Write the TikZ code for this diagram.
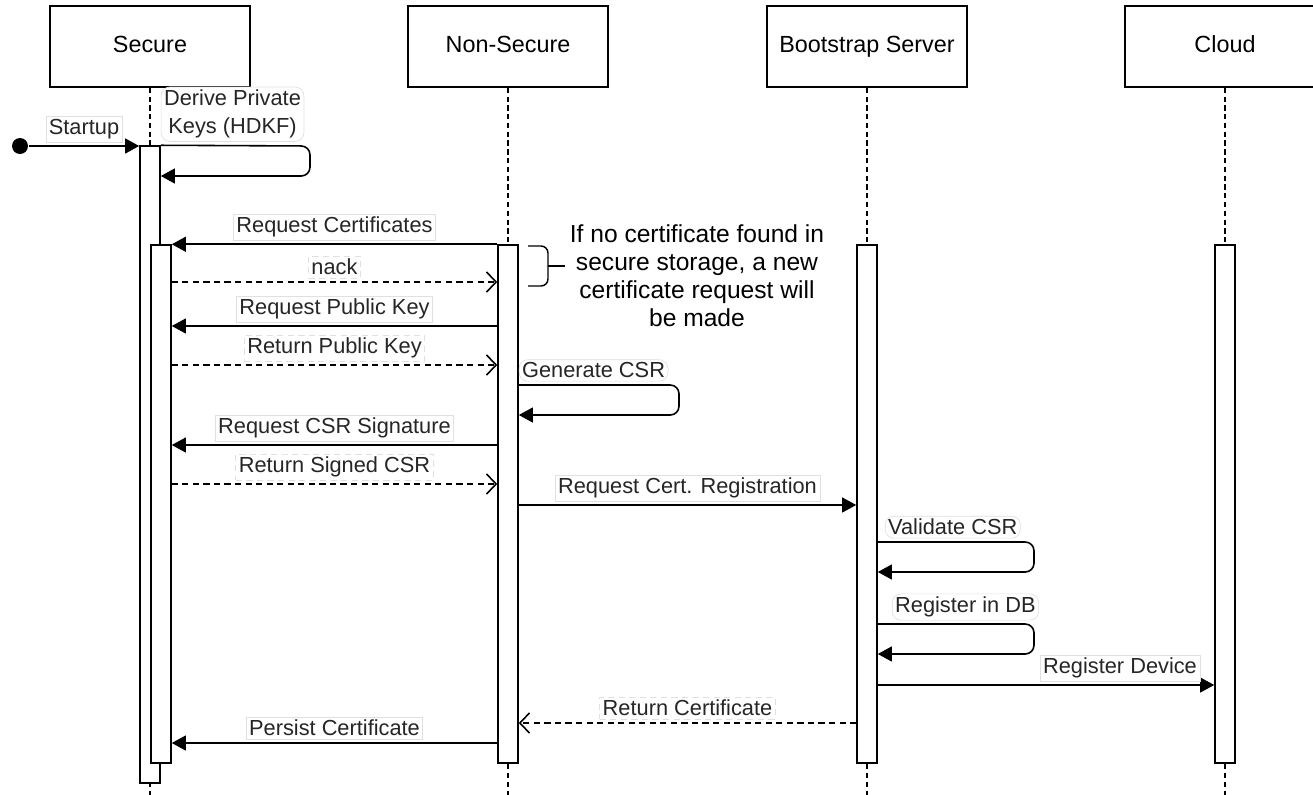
\documentclass[tikz,border=0pt]{standalone}
\usepackage{fontspec}
\setmainfont{Liberation Sans}
\usetikzlibrary{arrows.meta}
\usetikzlibrary{calc}
\usetikzlibrary{positioning}

\begin{document}
\begin{tikzpicture}[x=0.02cm, y=-0.02cm, line width=0.9pt,
    actor/.style={draw, fill=white, minimum width=4cm, minimum height=1.62cm, text height=0.72em, text depth=0pt, font=\fontsize{13.3}{16}\selectfont},
    life/.style={dash pattern=on 3pt off 2pt, line width=0.8pt},
    bar/.style={draw, fill=white, minimum width=0.4cm, inner sep=0pt},
    msg/.style={-{Triangle[length=8pt,width=8.5pt]}},
    reply/.style={dash pattern=on 3.5pt off 2.5pt, -{Straight Barb[length=5.5pt,width=11.5pt]}},
    self/.style={msg, rounded corners=5pt},
    lbl/.style={fill=white, draw=black!12, line width=0.4pt, inner sep=1.7pt, text=black!85, font=\fontsize{12.4}{16}\selectfont}]
    \useasboundingbox (0,0) rectangle (1313,795);

    % Participants
    \node[actor] (sec) at (150,46.5) {Secure};
    \node[actor] (ns) at (508,46.5) {Non-Secure};
    \node[actor] (bs) at (867,46.5) {Bootstrap Server};
    \node[actor] (cl) at (1225,46.5) {Cloud};

    % Lifelines
    \coordinate (secend) at (150,795);
    \coordinate (nsend) at (508,795);
    \coordinate (bsend) at (867,795);
    \coordinate (clend) at (1225,795);
    \draw[life] (sec.south) -- (secend);
    \draw[life] (ns.south) -- (nsend);
    \draw[life] (bs.south) -- (bsend);
    \draw[life] (cl.south) -- (clend);

    % Activation bars
    \node[bar, minimum height=12.74cm] (sec1) at (150,464.5) {};
    \node[bar, minimum height=10.36cm] (sec2) at (161,504) {};
    \node[bar, minimum height=10.36cm] (ns1) at (508,504) {};
    \node[bar, minimum height=10.36cm] (bs1) at (867,504) {};
    \node[bar, minimum height=10.36cm] (cl1) at (1225,504) {};

    % Startup
    \node[circle, fill, inner sep=0pt, minimum size=0.32cm] (start) at (20,146) {};
    \draw[msg] (start) -- (sec1.west |- start) node[lbl, midway, above=2pt] {Startup};
    \draw[self] (sec1.north east) node[lbl, above right=2pt and 0pt, align=center] {Derive Private\\Keys (HDKF)}
        -- (310,146) -- (310,176) -- (sec1.east |- 0,176);

    % Certificate lookup
    \draw[msg] (ns1.north west) -- (sec2.north east) node[lbl, midway, above=2pt] {Request Certificates};
    \draw[reply] (sec2.east |- 0,282) -- (ns1.west |- 0,282) node[lbl, midway, above=2pt] {nack};
    \draw[msg] (ns1.west |- 0,326) -- (sec2.east |- 0,326) node[lbl, midway, above=2pt] {Request Public Key};
    \draw[reply] (sec2.east |- 0,365) -- (ns1.west |- 0,365) node[lbl, midway, above=2pt] {Return Public Key};

    % Note
    \node[font=\fontsize{14}{16}\selectfont, align=center] (note) at (697,275.5)
        {If no certificate found in\\secure storage, a new\\certificate request will\\be made};
    \draw[line width=0.8pt, rounded corners=4pt] (528,246) -| (548,266) |- (528,286);
    \draw[line width=0.8pt] (548,266) -- (565,266);

    % CSR
    \draw[self] (ns1.east |- 0,385) node[lbl, above right=2pt and 0pt] {Generate CSR}
        -- (679,385) -- (679,415) -- (ns1.east |- 0,415);
    \draw[msg] (ns1.west |- 0,445) -- (sec2.east |- 0,445) node[lbl, midway, above=2pt] {Request CSR Signature};
    \draw[reply] (sec2.east |- 0,484) -- (ns1.west |- 0,484) node[lbl, midway, above=2pt] {Return Signed CSR};

    % Registration
    \draw[msg] (ns1.east |- 0,505) -- (bs1.west |- 0,505) node[lbl, midway, above=2pt] {Request Cert. Registration};
    \draw[self] (bs1.east |- 0,542) node[lbl, above right=2pt and 4pt] {Validate CSR}
        -- (1034,542) -- (1034,572) -- (bs1.east |- 0,572);
    \draw[self] (bs1.east |- 0,624) node[lbl, above right=2pt and 8pt] {Register in DB}
        -- (1034,624) -- (1034,654) -- (bs1.east |- 0,654);
    \draw[msg] (bs1.east |- 0,685) -- (cl1.west |- 0,685) node[lbl, pos=0.72, above=2pt] {Register Device};

    % Result
    \draw[reply] (bs1.west |- 0,723) -- (ns1.east |- 0,723) node[lbl, midway, above=2pt] {Return Certificate};
    \draw[msg] (ns1.west |- 0,743) -- (sec2.east |- 0,743) node[lbl, midway, above=2pt] {Persist Certificate};
\end{tikzpicture}
\end{document}
